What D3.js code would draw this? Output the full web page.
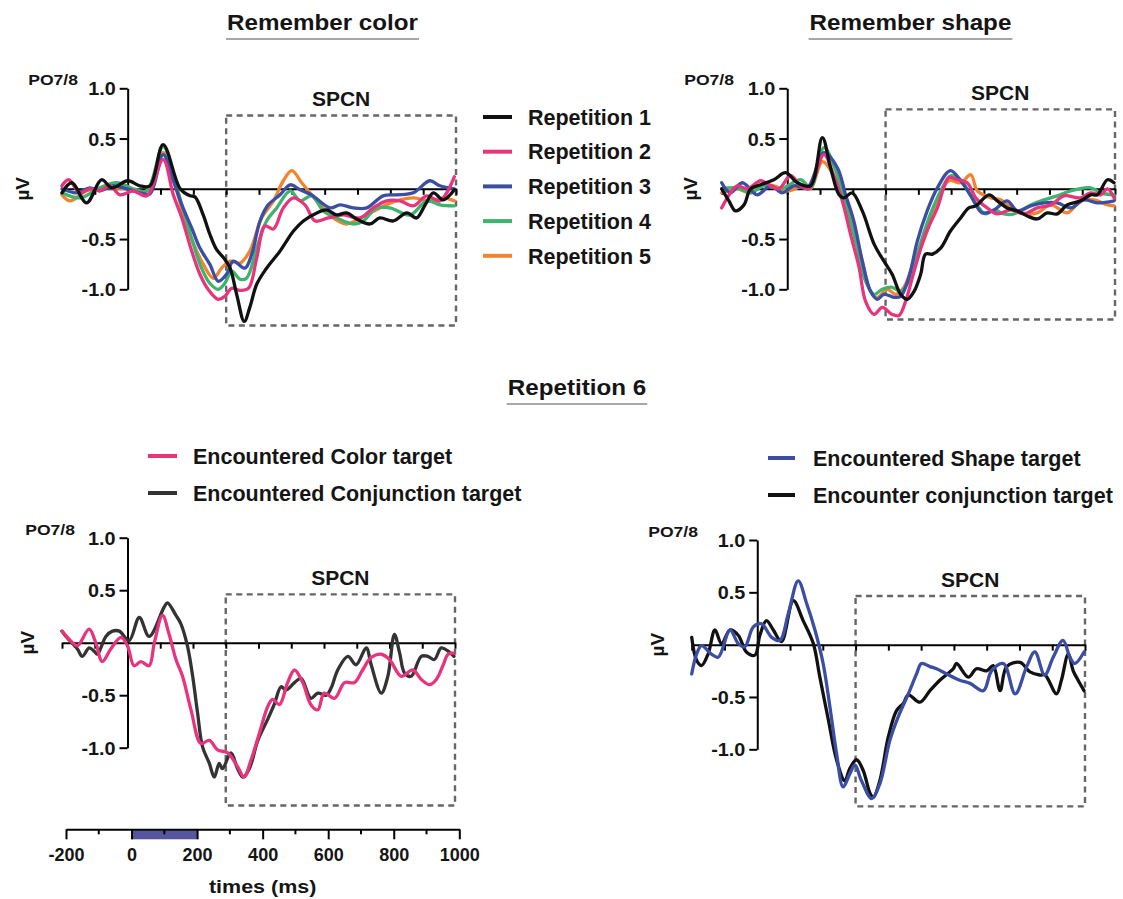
<!DOCTYPE html>
<html>
<head>
<meta charset="utf-8">
<script src="https://cdn.jsdelivr.net/npm/d3@7"></script>
<style>
  html, body { margin: 0; padding: 0; background: #ffffff; }
  svg { display: block; font-family: "Liberation Sans", Arial, Helvetica, sans-serif; font-weight: bold; }
</style>
</head>
<body>
<svg id="fig" width="1123" height="899"></svg>
<script>
// ---------- data: ERP waveforms at PO7/8, [time (ms), amplitude (µV)] ----------
const timeDomain = [-200, 1000];
const yTicks = [-1, -0.5, 0.5, 1];
const zeroTicks = d3.range(-200, 1001, 100);
const timeTicks = [-200, 0, 200, 400, 600, 800, 1000];
const timeMinorTicks = [-100, 100, 300, 500, 700, 900];
const stimulusWindow = [0, 200];

const repetitionLabels = ["Repetition 1", "Repetition 2", "Repetition 3", "Repetition 4", "Repetition 5"];
const repetitionColors = ["#111111", "#e8347c", "#3b4ea3", "#3db36e", "#f28330"];

// Remember color, repetitions 1-5
const colorRep1 = [[-200,-0.04],[-170,0.06],[-125,-0.14],[-80,0.09],[-48,0.01],[0,0.08],[37,0.03],[68,0.03],[108,0.44],[160,0.0],[190,-0.07],[205,-0.08],[230,-0.26],[250,-0.45],[270,-0.6],[293,-0.69],[312,-0.79],[332,-1.05],[355,-1.32],[372,-1.18],[393,-0.95],[423,-0.79],[464,-0.62],[484,-0.52],[505,-0.42],[535,-0.32],[576,-0.24],[606,-0.21],[636,-0.26],[667,-0.24],[697,-0.3],[738,-0.35],[768,-0.29],[809,-0.32],[850,-0.24],[880,-0.29],[906,-0.16],[931,-0.04],[961,-0.11],[995,-0.01]];
const colorRep2 = [[-200,0.03],[-180,0.09],[-145,-0.04],[-115,0.0],[-85,-0.02],[-54,0.03],[-23,-0.06],[17,-0.02],[58,-0.07],[108,0.29],[139,-0.06],[165,-0.29],[195,-0.62],[220,-0.85],[245,-1.0],[276,-1.1],[296,-1.07],[317,-0.99],[342,-1.01],[368,-0.99],[393,-0.69],[418,-0.37],[444,-0.4],[474,-0.19],[505,-0.09],[540,-0.16],[571,-0.32],[611,-0.29],[657,-0.26],[708,-0.29],[748,-0.19],[789,-0.12],[829,-0.12],[870,-0.17],[911,-0.07],[951,-0.12],[995,0.12]];
const colorRep3 = [[-200,0.0],[-155,-0.04],[-115,0.01],[-85,-0.02],[-44,0.03],[-3,0.0],[38,-0.04],[68,-0.05],[108,0.34],[139,0.08],[165,-0.16],[195,-0.39],[220,-0.59],[250,-0.75],[276,-0.92],[301,-0.85],[322,-0.72],[357,-0.79],[378,-0.65],[403,-0.32],[428,-0.16],[464,-0.06],[495,0.04],[525,-0.01],[560,-0.06],[616,-0.19],[647,-0.16],[687,-0.19],[728,-0.19],[778,-0.07],[819,-0.06],[870,-0.04],[920,0.08],[951,0.03],[995,0.0]];
const colorRep4 = [[-200,-0.04],[-145,-0.09],[-85,0.01],[-33,0.06],[17,0.0],[58,-0.02],[108,0.42],[144,0.08],[170,-0.22],[200,-0.55],[225,-0.79],[250,-0.94],[276,-1.0],[296,-0.94],[317,-0.82],[342,-0.9],[362,-0.89],[393,-0.59],[423,-0.32],[454,-0.19],[495,-0.02],[525,-0.12],[560,-0.07],[596,-0.22],[636,-0.29],[687,-0.35],[718,-0.32],[758,-0.19],[799,-0.19],[860,-0.26],[911,-0.12],[951,-0.16],[995,-0.17]];
const colorRep5 = [[-200,-0.06],[-175,-0.12],[-125,-0.02],[-64,0.01],[-3,0.0],[58,-0.02],[108,0.36],[144,0.04],[170,-0.26],[200,-0.54],[230,-0.75],[261,-0.89],[286,-0.79],[312,-0.72],[342,-0.74],[372,-0.62],[408,-0.29],[444,-0.12],[474,0.08],[500,0.18],[530,0.06],[576,-0.12],[626,-0.29],[667,-0.35],[708,-0.29],[768,-0.19],[819,-0.12],[870,-0.09],[920,-0.12],[961,-0.09],[995,-0.12]];

// Remember shape, repetitions 1-5
const shapeRep1 = [[-200,0.0],[-178,-0.12],[-158,-0.22],[-132,-0.16],[-112,0.0],[-81,0.04],[-41,0.09],[-5,0.16],[31,0.06],[71,0.03],[107,0.51],[132,0.21],[158,-0.06],[173,-0.09],[198,-0.04],[229,-0.22],[265,-0.55],[295,-0.72],[320,-0.85],[346,-1.05],[366,-1.1],[387,-1.02],[407,-0.85],[422,-0.65],[443,-0.65],[468,-0.59],[498,-0.42],[529,-0.29],[554,-0.19],[575,-0.17],[616,-0.06],[641,-0.12],[671,-0.19],[702,-0.22],[732,-0.27],[763,-0.3],[793,-0.24],[824,-0.25],[854,-0.16],[895,-0.12],[926,-0.06],[946,-0.06],[977,0.09],[997,0.06]];
const shapeRep2 = [[-200,-0.19],[-173,-0.04],[-153,0.03],[-122,0.0],[-81,0.08],[-51,0.03],[-25,0.0],[10,0.13],[41,0.03],[66,0.0],[112,0.34],[142,0.13],[168,-0.12],[193,-0.45],[219,-0.78],[239,-1.12],[265,-1.25],[290,-1.18],[320,-1.25],[341,-1.26],[361,-1.12],[387,-0.82],[422,-0.45],[458,-0.19],[493,0.11],[519,0.09],[549,0.06],[575,-0.09],[610,-0.19],[641,-0.25],[682,-0.21],[722,-0.25],[763,-0.19],[804,-0.16],[844,-0.07],[895,-0.09],[926,-0.04],[956,-0.06],[977,0.0],[997,-0.09]];
const shapeRep3 = [[-200,0.06],[-173,-0.04],[-137,0.06],[-92,-0.06],[-51,0.03],[-15,-0.04],[20,0.03],[61,0.01],[112,0.36],[153,0.21],[178,-0.06],[203,-0.32],[229,-0.72],[254,-1.02],[275,-1.1],[295,-1.05],[326,-1.08],[346,-1.07],[371,-0.88],[397,-0.52],[427,-0.22],[458,0.01],[498,0.18],[529,0.08],[560,-0.07],[595,-0.24],[631,-0.21],[671,-0.12],[702,-0.22],[743,-0.17],[783,-0.14],[824,-0.14],[865,-0.19],[905,-0.11],[946,-0.14],[997,-0.12]];
const shapeRep4 = [[-200,0.0],[-153,0.01],[-112,-0.04],[-71,0.03],[-20,0.0],[41,0.09],[71,0.01],[112,0.41],[148,0.18],[178,-0.16],[214,-0.59],[239,-0.92],[265,-1.05],[290,-1.0],[320,-0.98],[346,-1.02],[371,-0.92],[402,-0.59],[437,-0.25],[478,0.04],[498,0.13],[529,0.09],[570,-0.12],[605,-0.25],[631,-0.21],[661,-0.25],[692,-0.25],[743,-0.16],[783,-0.11],[824,-0.07],[865,-0.02],[926,0.01],[956,-0.04],[997,-0.06]];
const shapeRep5 = [[-200,-0.04],[-153,0.0],[-112,-0.04],[-81,0.04],[-41,0.03],[0,-0.02],[51,0.03],[71,0.0],[107,0.27],[137,0.16],[168,-0.06],[198,-0.32],[229,-0.72],[254,-1.02],[275,-1.08],[305,-1.0],[331,-1.05],[356,-0.98],[387,-0.72],[407,-0.59],[427,-0.42],[458,-0.12],[493,0.08],[529,0.06],[560,0.14],[580,-0.02],[621,-0.09],[651,-0.11],[692,-0.21],[732,-0.25],[763,-0.24],[804,-0.16],[854,-0.24],[895,-0.12],[936,-0.11],[977,-0.16],[997,-0.17]];

// Repetition 6
const rep6ColorTarget = [[-200,0.11],[-168,0.0],[-153,-0.03],[-117,0.13],[-97,0.0],[-77,-0.18],[-51,-0.06],[-20,0.05],[0,-0.03],[20,-0.22],[41,-0.18],[66,-0.22],[82,0.0],[107,0.26],[127,0.08],[148,-0.16],[168,-0.32],[194,-0.64],[224,-0.96],[250,-0.93],[275,-1.02],[306,-1.05],[336,-1.18],[356,-1.28],[377,-1.12],[403,-0.86],[428,-0.61],[443,-0.54],[464,-0.59],[489,-0.38],[510,-0.26],[535,-0.38],[560,-0.59],[581,-0.64],[601,-0.48],[632,-0.53],[663,-0.38],[693,-0.38],[718,-0.26],[744,-0.14],[775,-0.11],[800,-0.16],[836,-0.32],[871,-0.26],[897,-0.35],[922,-0.4],[943,-0.35],[963,-0.22],[979,-0.11],[997,-0.1]];
const rep6ConjunctionA = [[-200,0.11],[-185,0.05],[-153,-0.06],[-138,-0.13],[-117,-0.05],[-102,-0.08],[-92,-0.11],[-66,0.06],[-46,0.11],[-25,0.11],[5,0.02],[36,0.24],[66,0.06],[112,0.34],[122,0.38],[148,0.26],[163,0.18],[183,-0.03],[199,-0.32],[214,-0.67],[229,-0.99],[250,-1.15],[265,-1.28],[280,-1.15],[290,-1.2],[316,-1.05],[336,-1.2],[352,-1.28],[372,-1.2],[398,-0.93],[428,-0.73],[449,-0.58],[469,-0.42],[484,-0.45],[510,-0.38],[530,-0.34],[560,-0.53],[581,-0.48],[607,-0.5],[622,-0.43],[642,-0.26],[673,-0.13],[698,-0.21],[729,-0.05],[744,-0.21],[775,-0.48],[795,-0.32],[815,0.08],[831,-0.1],[846,-0.29],[866,-0.32],[897,-0.13],[917,-0.13],[937,-0.16],[958,-0.05],[979,-0.08],[997,-0.13]];
const rep6ShapeTarget = [[-200,-0.28],[-185,-0.09],[-170,-0.01],[-140,-0.09],[-119,-0.12],[-83,0.14],[-58,0.01],[-38,-0.02],[-12,0.17],[13,0.2],[44,0.07],[69,0.04],[95,0.3],[125,0.61],[151,0.39],[176,0.14],[201,-0.18],[222,-0.6],[242,-1.04],[262,-1.36],[283,-1.23],[298,-1.15],[318,-1.3],[349,-1.47],[374,-1.33],[405,-0.91],[430,-0.69],[461,-0.47],[486,-0.28],[501,-0.18],[527,-0.21],[547,-0.23],[578,-0.28],[618,-0.34],[649,-0.37],[690,-0.44],[715,-0.25],[751,-0.18],[787,-0.47],[822,-0.21],[847,-0.07],[877,-0.29],[903,-0.12],[933,0.04],[954,-0.12],[969,-0.18],[997,-0.07]];
const rep6ConjunctionB = [[-200,0.07],[-185,-0.15],[-170,-0.2],[-150,-0.09],[-129,0.14],[-109,0.01],[-83,0.14],[-58,0.09],[-33,-0.07],[-7,-0.1],[8,0.09],[28,0.23],[49,0.14],[74,0.03],[110,0.42],[140,0.23],[171,0.01],[191,-0.31],[217,-0.72],[242,-1.1],[267,-1.3],[283,-1.18],[303,-1.1],[323,-1.2],[344,-1.42],[354,-1.46],[374,-1.3],[400,-0.88],[425,-0.63],[446,-0.56],[461,-0.48],[496,-0.55],[527,-0.44],[557,-0.34],[598,-0.23],[608,-0.18],[644,-0.31],[669,-0.23],[700,-0.25],[720,-0.2],[741,-0.44],[761,-0.21],[802,-0.17],[832,-0.26],[862,-0.29],[878,-0.29],[913,-0.47],[928,-0.34],[949,-0.09],[964,-0.25],[979,-0.34],[997,-0.44]];

const rep6LeftLabels = ["Encountered Color target", "Encountered Conjunction target"];
const rep6LeftColors = ["#e8347c", "#333333"];
const rep6RightLabels = ["Encountered Shape target", "Encounter conjunction target"];
const rep6RightColors = ["#3b4ea3", "#111111"];

// ---------- drawing ----------
const svg = d3.select("#fig");
const TEXT = "#151515";

// widen a text element horizontally by factor k
function stretch(sel, k) {
  sel.each(function () {
    const w = this.getComputedTextLength();
    this.setAttribute("textLength", w * k);
    this.setAttribute("lengthAdjust", "spacingAndGlyphs");
  });
}

function title(txt, cx, baseline) {
  const t = svg.append("text")
    .attr("x", cx).attr("y", baseline)
    .attr("text-anchor", "middle")
    .attr("font-size", 22).attr("fill", TEXT)
    .text(txt);
  stretch(t, 1.1);
  const w = +t.attr("textLength");
  svg.append("line")
    .attr("x1", cx - w / 2 - 1).attr("x2", cx + w / 2 + 1)
    .attr("y1", baseline + 9).attr("y2", baseline + 9)
    .attr("stroke", "#8a8a8a").attr("stroke-width", 1.6);
}

function drawPanel(p) {
  const g = svg.append("g");
  const x = d3.scaleLinear().domain(timeDomain).range([p.x0, p.x1]);
  const y = d3.scaleLinear().domain([-1, 1]).range([p.yBottom, p.yTop]);

  // SPCN window
  g.append("rect")
    .attr("x", x(p.box[0])).attr("y", y(p.box[2]))
    .attr("width", x(p.box[1]) - x(p.box[0]))
    .attr("height", y(p.box[3]) - y(p.box[2]))
    .attr("fill", "none").attr("stroke", "#666666")
    .attr("stroke-width", 2.4).attr("stroke-dasharray", "6,4.5");
  g.append("text")
    .attr("x", (x(p.box[0]) + x(p.box[1])) / 2)
    .attr("y", y(p.box[2]) - 9)
    .attr("text-anchor", "middle").attr("font-size", 21).attr("fill", TEXT)
    .text("SPCN");

  // zero line with time ticks
  const zero = g.append("g")
    .attr("transform", `translate(0,${y(0)})`)
    .call(d3.axisBottom(x).tickValues(zeroTicks).tickSize(6).tickSizeOuter(0).tickFormat(""));
  zero.select(".domain").attr("stroke", "#000").attr("stroke-width", 2);
  zero.selectAll(".tick line").attr("stroke", "#000").attr("stroke-width", 2);

  // amplitude axis
  const ya = g.append("g")
    .attr("transform", `translate(${x(0)},0)`)
    .call(d3.axisLeft(y).tickValues(yTicks).tickSize(8).tickSizeOuter(0).tickPadding(4)
      .tickFormat(d => d.toFixed(1)));
  ya.attr("font-family", null).attr("font-size", null);
  ya.select(".domain").attr("stroke", "#000").attr("stroke-width", 2);
  ya.selectAll(".tick line").attr("stroke", "#000").attr("stroke-width", 2);
  const yl = ya.selectAll(".tick text")
    .attr("font-size", 18).attr("fill", TEXT).attr("dy", "0.36em");
  stretch(yl, 1.1);

  g.append("text")
    .attr("x", p.poX).attr("y", y(1) - 3)
    .attr("text-anchor", "end").attr("font-size", 15).attr("fill", TEXT)
    .text("PO7/8")
    .call(s => stretch(s, 1.17));

  g.append("text")
    .attr("transform", `translate(${p.muX},${y(0)}) rotate(-90)`)
    .attr("text-anchor", "middle").attr("dy", "0.36em")
    .attr("font-size", 19).attr("fill", TEXT)
    .text("µV");

  // waveforms
  const line = d3.line()
    .x(d => x(d[0])).y(d => y(d[1]))
    .curve(d3.curveCatmullRom.alpha(0.5));
  p.series.forEach(s => {
    g.append("path").datum(s.data)
      .attr("d", line)
      .attr("fill", "none").attr("stroke", s.color)
      .attr("stroke-width", 3.3).attr("stroke-linejoin", "round").attr("stroke-linecap", "round");
  });
  return { x, y };
}

function legend(labels, colors, lx1, lx2, tx, y0, dy) {
  labels.forEach((lab, i) => {
    const yy = y0 + i * dy;
    svg.append("line")
      .attr("x1", lx1).attr("x2", lx2).attr("y1", yy).attr("y2", yy)
      .attr("stroke", colors[i]).attr("stroke-width", 4);
    svg.append("text")
      .attr("x", tx).attr("y", yy).attr("dy", "0.36em")
      .attr("font-size", 21.5).attr("fill", TEXT)
      .text(lab);
  });
}

// titles
title("Remember color", 322.5, 30);
title("Remember shape", 910.5, 30);
title("Repetition 6", 577, 395);

// top row
drawPanel({
  x0: 62, x1: 456, yTop: 88.3, yBottom: 289.3,
  box: [300, 1000, 0.73, -1.36], poX: 78, muX: 22,
  series: [
    { data: colorRep5, color: repetitionColors[4] },
    { data: colorRep4, color: repetitionColors[3] },
    { data: colorRep3, color: repetitionColors[2] },
    { data: colorRep2, color: repetitionColors[1] },
    { data: colorRep1, color: repetitionColors[0] }
  ]
});
drawPanel({
  x0: 721.7, x1: 1115, yTop: 88.3, yBottom: 289.3,
  box: [300, 1000, 0.79, -1.30], poX: 734, muX: 690,
  series: [
    { data: shapeRep5, color: repetitionColors[4] },
    { data: shapeRep4, color: repetitionColors[3] },
    { data: shapeRep3, color: repetitionColors[2] },
    { data: shapeRep2, color: repetitionColors[1] },
    { data: shapeRep1, color: repetitionColors[0] }
  ]
});
legend(repetitionLabels, repetitionColors, 483, 512, 528, 117, 34.7);

// bottom row
drawPanel({
  x0: 62, x1: 455, yTop: 537.7, yBottom: 747.7,
  box: [300, 1000, 0.46, -1.55], poX: 75, muX: 27,
  series: [
    { data: rep6ConjunctionA, color: rep6LeftColors[1] },
    { data: rep6ColorTarget, color: rep6LeftColors[0] }
  ]
});
drawPanel({
  x0: 691.7, x1: 1085, yTop: 540, yBottom: 749.3,
  box: [300, 1000, 0.465, -1.545], poX: 698, muX: 657,
  series: [
    { data: rep6ConjunctionB, color: rep6RightColors[1] },
    { data: rep6ShapeTarget, color: rep6RightColors[0] }
  ]
});
legend(rep6LeftLabels, rep6LeftColors, 148, 177, 193, 456, 37);
legend(rep6RightLabels, rep6RightColors, 768, 795, 813, 458, 37);

// time axis under the bottom-left panel, with stimulus window bar
const xb = d3.scaleLinear().domain(timeDomain).range([66, 459.3]);
const axisY = 829.3;
svg.append("rect")
  .attr("x", xb(stimulusWindow[0])).attr("y", axisY + 1)
  .attr("width", xb(stimulusWindow[1]) - xb(stimulusWindow[0]))
  .attr("height", 9)
  .attr("fill", "#56569f");
const tb = svg.append("g")
  .attr("transform", `translate(0,${axisY})`)
  .call(d3.axisBottom(xb).tickValues(timeTicks).tickSize(10).tickSizeOuter(0).tickPadding(9)
    .tickFormat(d => String(d)));
tb.attr("font-family", null).attr("font-size", null);
tb.select(".domain").attr("stroke", "#000").attr("stroke-width", 2);
tb.selectAll(".tick line").attr("stroke", "#000").attr("stroke-width", 2);
stretch(tb.selectAll(".tick text").attr("font-size", 17.5).attr("fill", TEXT), 1.03);
svg.append("g")
  .selectAll("line").data(timeMinorTicks).join("line")
  .attr("x1", d => xb(d)).attr("x2", d => xb(d))
  .attr("y1", axisY).attr("y2", axisY + 5)
  .attr("stroke", "#000").attr("stroke-width", 2);
svg.append("text")
  .attr("x", (xb(-200) + xb(1000)) / 2).attr("y", 893)
  .attr("text-anchor", "middle").attr("font-size", 19).attr("fill", TEXT)
  .text("times (ms)")
  .call(s => stretch(s, 1.13));
</script>
</body>
</html>
